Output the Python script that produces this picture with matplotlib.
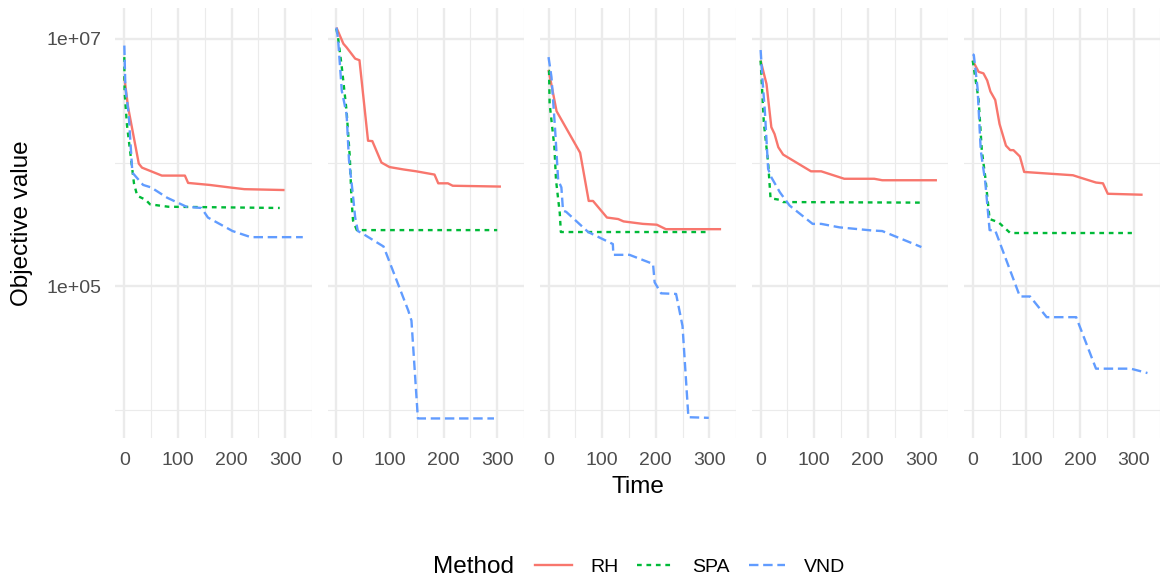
import numpy as np
import matplotlib.pyplot as plt
from matplotlib.lines import Line2D

plt.rcParams['font.family'] = ['Liberation Sans', 'DejaVu Sans']

methods = ['RH', 'SPA', 'VND']
colors = {'RH': '#F8766D', 'SPA': '#00BA38', 'VND': '#619CFF'}
dashes = {'RH': '-', 'SPA': (0, (2, 2)), 'VND': (0, (4, 2))}

# one list per panel (instance), time in seconds
rh_time = [
    [0, 7, 27, 33, 70, 113, 119, 159, 203, 224, 299],
    [0, 13, 19, 35, 43, 59, 67, 84, 99, 125, 149, 183, 190, 208, 217, 307],
    [0, 15, 59, 75, 83, 109, 130, 140, 176, 202, 219, 322],
    [0, 11, 20, 26, 33, 42, 94, 113, 156, 212, 227, 329],
    [0, 11, 20, 27, 33, 42, 50, 62, 70, 76, 88, 96, 187, 199, 230, 243, 252, 317],
]
rh_value = [
    [4.9e6, 2.8e6, 9.8e5, 9.1e5, 7.85e5, 7.85e5, 6.85e5, 6.6e5, 6.25e5, 6.1e5, 6.0e5],
    [1.23e7, 9.1e6, 8.5e6, 6.9e6, 6.7e6, 1.5e6, 1.49e6, 1.0e6, 9.2e5, 8.8e5, 8.5e5,
     8.0e5, 6.8e5, 6.8e5, 6.5e5, 6.4e5],
    [5.6e6, 2.6e6, 1.2e6, 4.9e5, 4.9e5, 3.6e5, 3.5e5, 3.35e5, 3.2e5, 3.15e5, 2.9e5, 2.9e5],
    [6.65e6, 4.3e6, 1.93e6, 1.7e6, 1.33e6, 1.16e6, 8.5e5, 8.5e5, 7.4e5, 7.4e5, 7.2e5, 7.2e5],
    [6.65e6, 5.4e6, 5.25e6, 4.6e6, 3.75e6, 3.2e6, 2.05e6, 1.37e6, 1.26e6, 1.26e6, 1.12e6,
     8.4e5, 7.9e5, 7.6e5, 6.9e5, 6.8e5, 5.6e5, 5.5e5],
]

spa_time = [
    [0, 0.5, 5, 18, 24, 40, 48, 82, 290],
    [0, 3, 10, 19, 25, 28, 31, 38, 300],
    [0, 1, 2, 11, 14, 21, 23, 299],
    [0, 6, 14, 18.5, 36, 42, 300],
    [0, 11, 17, 23.5, 31.5, 48, 70, 297],
]
spa_value = [
    [7.1e6, 3.7e6, 2.0e6, 6.8e5, 5.4e5, 5.0e5, 4.6e5, 4.4e5, 4.3e5],
    [1.2e7, 1.02e7, 5.9e6, 2.6e6, 1.1e6, 5.2e5, 3.4e5, 2.85e5, 2.85e5],
    [5.5e6, 5.5e6, 3.0e6, 1.33e6, 7.2e5, 3.9e5, 2.75e5, 2.75e5],
    [6.65e6, 2.1e6, 1.0e6, 5.15e5, 5.0e5, 4.8e5, 4.75e5],
    [6.65e6, 3.2e6, 1.25e6, 7.6e5, 3.5e5, 3.3e5, 2.7e5, 2.7e5],
]

vnd_time = [
    [0, 2, 8, 15, 35, 50, 80, 116, 144, 156, 202, 236, 333],
    [0, 3, 10, 19, 23.5, 30, 35, 40, 47, 88, 134, 140, 152, 294],
    [0, 5.5, 12, 18, 24, 27, 33, 74, 120, 121, 151, 195, 198, 210, 238, 250, 261, 299],
    [0, 3, 8, 14, 20, 36, 54, 97, 113, 147, 208, 227, 300],
    [0, 2, 9, 15, 23.5, 31.5, 42, 88, 107, 138, 193, 230, 295, 326],
]
vnd_value = [
    [8.8e6, 4.0e6, 2.5e6, 8.3e5, 6.6e5, 6.3e5, 5.2e5, 4.4e5, 4.3e5, 3.6e5, 2.8e5, 2.5e5, 2.5e5],
    [1.23e7, 1.0e7, 3.8e6, 2.45e6, 1.04e6, 5.9e5, 3.6e5, 2.8e5, 2.7e5, 2.1e5, 6.4e4,
     5.3e4, 8.6e3, 8.6e3],
    [7.1e6, 4.9e6, 1.93e6, 7.2e5, 6.3e5, 4.1e5, 4.0e5, 2.75e5, 2.2e5, 1.8e5, 1.8e5,
     1.52e5, 1.08e5, 8.8e4, 8.7e4, 4.8e4, 8.8e3, 8.7e3],
    [8.1e6, 5.0e6, 2.55e6, 8.9e5, 7.6e5, 5.75e5, 4.5e5, 3.2e5, 3.2e5, 3.0e5, 2.83e5,
     2.8e5, 2.08e5],
    [7.5e6, 7.4e6, 4.0e6, 1.25e6, 6.9e5, 2.85e5, 2.83e5, 8.3e4, 8.3e4, 5.65e4, 5.65e4,
     2.17e4, 2.17e4, 2.0e4],
]

series = {
    'RH': (rh_time, rh_value),
    'SPA': (spa_time, spa_value),
    'VND': (vnd_time, vnd_value),
}

# shared scales with 5% expansion (log space for y)
all_t = np.concatenate([np.ravel(t) for s in series.values() for t in s[0]])
all_v = np.log10(np.concatenate([np.ravel(v) for s in series.values() for v in s[1]]))
t_span = all_t.max() - all_t.min()
xlim = (all_t.min() - 0.05 * t_span, all_t.max() + 0.05 * t_span)
v_span = all_v.max() - all_v.min()
ylim = (10 ** (all_v.min() - 0.05 * v_span), 10 ** (all_v.max() + 0.05 * v_span))

W, H = 1161, 581
fig = plt.figure(figsize=(W / 100, H / 100), dpi=100)

left0, step, pw = 115.4, 212.1, 196.5
top, bottom = 8, 438
grid_col = '#EBEBEB'

for i in range(5):
    ax = fig.add_axes([(left0 + i * step) / W, (H - bottom) / H, pw / W, (bottom - top) / H])
    for m in methods:
        t, v = series[m][0][i], series[m][1][i]
        ax.plot(t, v, color=colors[m], linestyle=dashes[m], lw=1.7,
                solid_capstyle='butt', dash_capstyle='butt', solid_joinstyle='round')
    ax.set_yscale('log')
    ax.set_xlim(xlim)
    ax.set_ylim(ylim)
    ax.set_xticks([0, 100, 200, 300])
    ax.set_xticks([50, 150, 250, 350], minor=True)
    ax.set_yticks([1e5, 1e7])
    ax.set_yticks([1e4, 1e6], minor=True)
    ax.set_yticklabels(['1e+05', '1e+07'])
    ax.yaxis.set_minor_formatter(plt.NullFormatter())
    ax.grid(which='major', color=grid_col, lw=1.7)
    ax.grid(which='minor', color=grid_col, lw=0.85)
    ax.tick_params(which='both', length=0, labelsize=14, labelcolor='#4D4D4D', pad=10)
    if i > 0:
        ax.tick_params(labelleft=False)
    for sp in ax.spines.values():
        sp.set_visible(False)

fig.text((left0 + 4 * step + pw + left0) / 2 / W, 1 - 487 / H, 'Time',
         ha='center', va='center', fontsize=17.5)
fig.text(22 / W, 1 - 223 / H, 'Objective value', rotation=90,
         ha='center', va='center', fontsize=17.5)

fig.text(433 / W, 1 - 567 / H, 'Method', ha='left', va='center', fontsize=17.5)
handles = [Line2D([], [], color=colors[m], linestyle=dashes[m], lw=1.7) for m in methods]
fig.legend(handles, methods, loc='center left', bbox_to_anchor=(535 / W, 1 - 567 / H),
           ncol=3, frameon=False, fontsize=14, handlelength=1.9, handletextpad=0.95,
           columnspacing=0.95, borderpad=0, borderaxespad=0)

fig.savefig('out.png', dpi=100)
